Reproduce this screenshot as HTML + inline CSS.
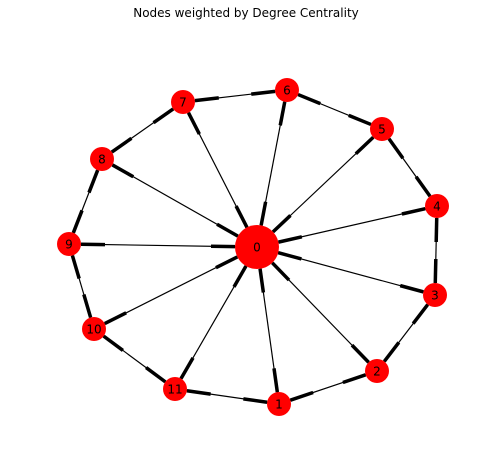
<!DOCTYPE html>
<html><head><meta charset="utf-8"><style>
body{margin:0;background:#fff;}
svg text{font-family:"DejaVu Sans","Liberation Sans",sans-serif;}
</style></head><body>
<svg id="g" width="487" height="462">
<text x="246" y="17" text-anchor="middle" font-size="12">Nodes weighted by Degree Centrality</text>
</svg>
<script>
const nodeIds=[0,1,2,3,4,5,6,7,8,9,10,11];
const nodeX=[257,279,377,435,437,382,287,183,102,69,94,175];
const nodeY=[247,404,371,295,206,129,90,102,159,244,329,389];
const nodeR=[22,12,12,12,12,12,12,12,12,12,12,12];
const edgeFrom=[0,0,0,0,0,0,0,0,0,0,0,1,2,3,4,5,6,7,8,9,10,11];
const edgeTo=[1,2,3,4,5,6,7,8,9,10,11,2,3,4,5,6,7,8,9,10,11,1];
const svg=document.getElementById('g');
const NS='http://www.w3.org/2000/svg';
function line(x1,y1,x2,y2,w,name){
  const l=document.createElementNS(NS,'line');
  l.setAttribute('x1',x1);l.setAttribute('y1',y1);l.setAttribute('x2',x2);l.setAttribute('y2',y2);
  l.setAttribute('stroke','#000');l.setAttribute('stroke-width',w);
  
  
  svg.appendChild(l);
}
for(let i=0;i<edgeFrom.length;i++){
  const a=edgeFrom[i],b=edgeTo[i];
  const x1=nodeX[a],y1=nodeY[a],x2=nodeX[b],y2=nodeY[b];
  const d=Math.hypot(x2-x1,y2-y1),ux=(x2-x1)/d,uy=(y2-y1)/d;
  line(x1,y1,x2,y2,1.2,'edge-'+a+'-'+b);
  const ra=nodeR[a],rb=nodeR[b];
  line(x1+ux*ra,y1+uy*ra,x1+ux*(ra+24),y1+uy*(ra+24),3.5,'arrow-'+b+'-'+a);
  line(x2-ux*rb,y2-uy*rb,x2-ux*(rb+24),y2-uy*(rb+24),3.5,'arrow-'+a+'-'+b);
}
for(let i=0;i<nodeIds.length;i++){
  const c=document.createElementNS(NS,'circle');
  c.setAttribute('cx',nodeX[i]);c.setAttribute('cy',nodeY[i]);c.setAttribute('r',nodeR[i]);
  c.setAttribute('fill','#ff0000');
  
  
  svg.appendChild(c);
  const t=document.createElementNS(NS,'text');
  t.setAttribute('x',nodeX[i]);t.setAttribute('y',nodeY[i]+4.5);
  t.setAttribute('text-anchor','middle');t.setAttribute('font-size','12');
  t.textContent=nodeIds[i];
  
  
  svg.appendChild(t);
}
</script>
</body></html>
